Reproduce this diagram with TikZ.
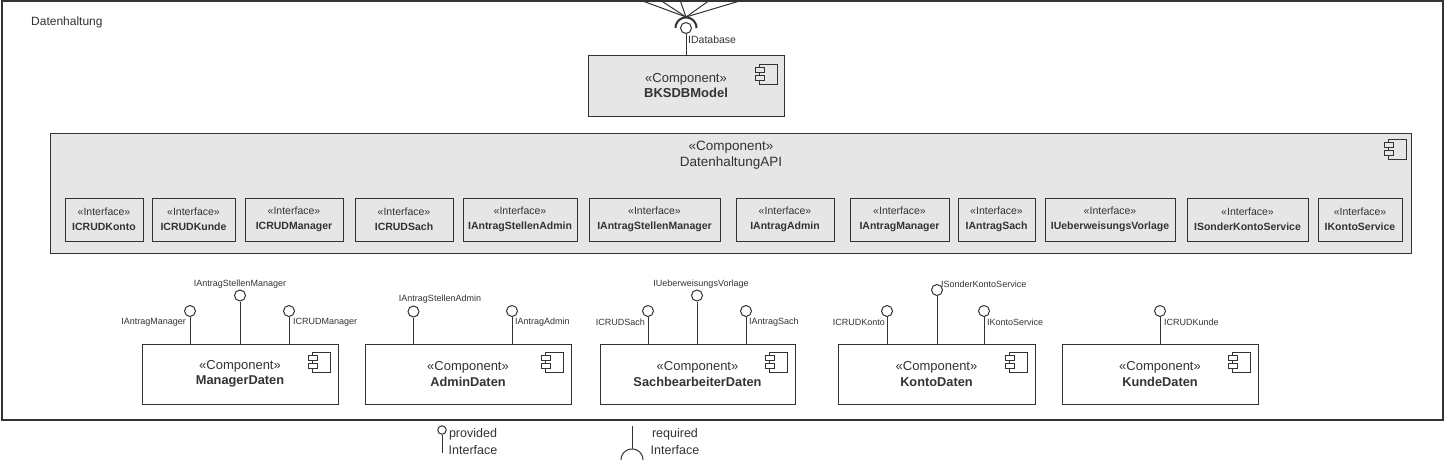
\documentclass[tikz,border=0pt]{standalone}
\usepackage{fontspec}
\setmainfont{Liberation Sans}
\usetikzlibrary{calc}
\definecolor{txt}{HTML}{333333}
\definecolor{ln}{HTML}{333333}
\definecolor{grayfill}{HTML}{E6E6E6}
\tikzset{
  box/.style={draw=ln, line width=1pt, text=txt, align=center, inner sep=0pt},
  compnode/.style={box, fill=white, minimum height=60pt, font=\fontsize{13}{15.5}\selectfont},
  ifacenode/.style={box, fill=grayfill, minimum height=43pt, font=\fontsize{10.5}{15}\selectfont},
  ball/.style={circle, draw=ln, line width=1pt, fill=white, minimum size=11pt, inner sep=0pt},
  lbl/.style={text=txt, font=\fontsize{9}{10}\selectfont, inner sep=0pt},
  conn/.style={draw=ln, line width=1pt},
  lgd/.style={text=txt, align=center, inner sep=0pt, font=\fontsize{12.5}{17}\selectfont},
}
\newcommand{\compicon}[4]{%
  \draw[ln, line width=0.9pt, fill=#4] ($(#1.north east)+(#2-18,#3)$) rectangle ($(#1.north east)+(#2,#3+20)$);
  \draw[ln, line width=0.9pt, fill=#4] ($(#1.north east)+(#2-22,#3+3)$) rectangle ++(9,5);
  \draw[ln, line width=0.9pt, fill=#4] ($(#1.north east)+(#2-22,#3+11)$) rectangle ++(9,5);
}
\newcommand{\ifbox}[4]{%
  \node[ifacenode, minimum width={(#3-#2)*1pt}] (#1) at ({(#2+#3)/2},219.5)
    {«Interface»\\{\fontsize{10.5}{13}\selectfont\bfseries #4}};
}
\newcommand{\cbox}[4]{%
  \node[compnode, minimum width={(#3-#2)*1pt}] (#1) at ({(#2+#3)/2},374)
    {«Component»\\\textbf{\fontsize{12.8}{15.5}\selectfont #4}};
  \compicon{#1}{-8}{9}{white}
}
\newcommand{\lolli}[4]{%
  \node[ball] (#1) at (#2,#3) {};
  \draw[conn] (#1) -- (#1 |- #4.north);
}
\begin{document}
\begin{tikzpicture}[x=1pt, y=-1pt]
\useasboundingbox (0,0) rectangle (1450,463);
\clip (0,0) rectangle (1450,463);
\fill[white] (0,0) rectangle (1450,463);

% outer frame
\node[draw=ln, line width=1.3pt, minimum width=1441pt, minimum height=419pt, inner sep=0pt] (frame) at (722.5,210.5) {};
\node[text=txt, anchor=west, inner sep=0pt, font=\fontsize{12}{13}\selectfont] (title) at (31,22.5) {Datenhaltung};

% BKSDBModel
\node[box, fill=grayfill, minimum width=196pt, minimum height=61pt, font=\fontsize{13}{15}\selectfont] (bks) at (686,85.5)
  {«Component»\\\textbf{BKSDBModel}};
\compicon{bks}{-7}{10}{grayfill}
\node[ball] (db) at (686,28) {};
\draw[conn] (db) -- (db |- bks.north);
\node[lbl, anchor=west, font=\fontsize{10.5}{12}\selectfont] (dblbl) at (688,40) {IDatabase};
% socket with incoming lines
\coordinate (conv) at (686,17);
\coordinate (t1) at (585.9,-20);
\coordinate (t2) at (629.4,-20);
\coordinate (t3) at (672.9,-20);
\coordinate (t4) at (738.2,-20);
\coordinate (t5) at (810,-20);
\foreach \t in {t1,t2,t3,t4,t5} \draw[conn] (conv) -- (\t);
\draw[ln, line width=2pt] plot[domain=0:180, samples=40] ({686+10.5*cos(\x)},{28-10.5*sin(\x)});

% DatenhaltungAPI
\node[box, fill=grayfill, minimum width=1361pt, minimum height=120pt] (api) at (730.5,193) {};
\node[text=txt, align=center, inner sep=0pt, font=\fontsize{13.5}{16}\selectfont] (apitext) at (731,155) {«Component»\\DatenhaltungAPI};
\compicon{api}{-5}{7}{grayfill}

\ifbox{i1}{65}{143}{ICRUDKonto}
\ifbox{i2}{152}{235}{ICRUDKunde}
\ifbox{i3}{245}{343}{ICRUDManager}
\ifbox{i4}{355}{453}{ICRUDSach}
\ifbox{i5}{463}{577}{IAntragStellenAdmin}
\ifbox{i6}{589}{720}{IAntragStellenManager}
\ifbox{i7}{736}{834}{IAntragAdmin}
\ifbox{i8}{850}{949}{IAntragManager}
\ifbox{i9}{958}{1035}{IAntragSach}
\ifbox{i10}{1045}{1175}{IUeberweisungsVorlage}
\ifbox{i11}{1187}{1308}{ISonderKontoService}
\ifbox{i12}{1318}{1402}{IKontoService}

% bottom components
\cbox{mgr}{142}{338}{ManagerDaten}
\cbox{adm}{365}{571}{AdminDaten}
\cbox{sach}{600}{795}{SachbearbeiterDaten}
\cbox{kto}{838}{1035}{KontoDaten}
\cbox{kde}{1062}{1258}{KundeDaten}

% lollipops
\lolli{m1}{190}{311}{mgr}
\lolli{m2}{240}{295.5}{mgr}
\lolli{m3}{289}{311}{mgr}
\node[lbl, anchor=east] (m1l) at (186,322) {IAntragManager};
\node[lbl] (m2l) at (240,284) {IAntragStellenManager};
\node[lbl, anchor=west] (m3l) at (293,322) {ICRUDManager};

\lolli{a1}{413.5}{311.5}{adm}
\lolli{a2}{512}{311}{adm}
\node[lbl] (a1l) at (440,299) {IAntragStellenAdmin};
\node[lbl, anchor=west] (a2l) at (515,322) {IAntragAdmin};

\lolli{s1}{648}{311}{sach}
\lolli{s2}{697}{295.5}{sach}
\lolli{s3}{746}{311}{sach}
\node[lbl, anchor=east] (s1l) at (645,322) {ICRUDSach};
\node[lbl] (s2l) at (701,284) {IUeberweisungsVorlage};
\node[lbl, anchor=west] (s3l) at (749,322) {IAntragSach};

\lolli{k1}{887}{311}{kto}
\lolli{k2}{937}{290}{kto}
\lolli{k3}{984}{311}{kto}
\node[lbl, anchor=east] (k1l) at (885,322) {ICRUDKonto};
\node[lbl, anchor=west] (k2l) at (941,284) {ISonderKontoService};
\node[lbl, anchor=west] (k3l) at (987,322) {IKontoService};

\lolli{u1}{1160}{311}{kde}
\node[lbl, anchor=west] (u1l) at (1164,322) {ICRUDKunde};

% legend
\node[ball, minimum size=8.5pt] (lp) at (442,430) {};
\coordinate (lpend) at (442,453);
\draw[conn] (lp) -- (lpend);
\node[lgd] (lptext) at (473,441.5) {provided\\Interface};
\coordinate (lrtop) at (632,426);
\coordinate (lrbot) at (632,449);
\draw[conn] (lrtop) -- (lrbot);
\draw[conn] plot[domain=0:180, samples=40] ({632+11*cos(\x)},{460-11*sin(\x)});
\node[lgd] (lrtext) at (675,441.5) {required\\Interface};
\end{tikzpicture}
\end{document}
